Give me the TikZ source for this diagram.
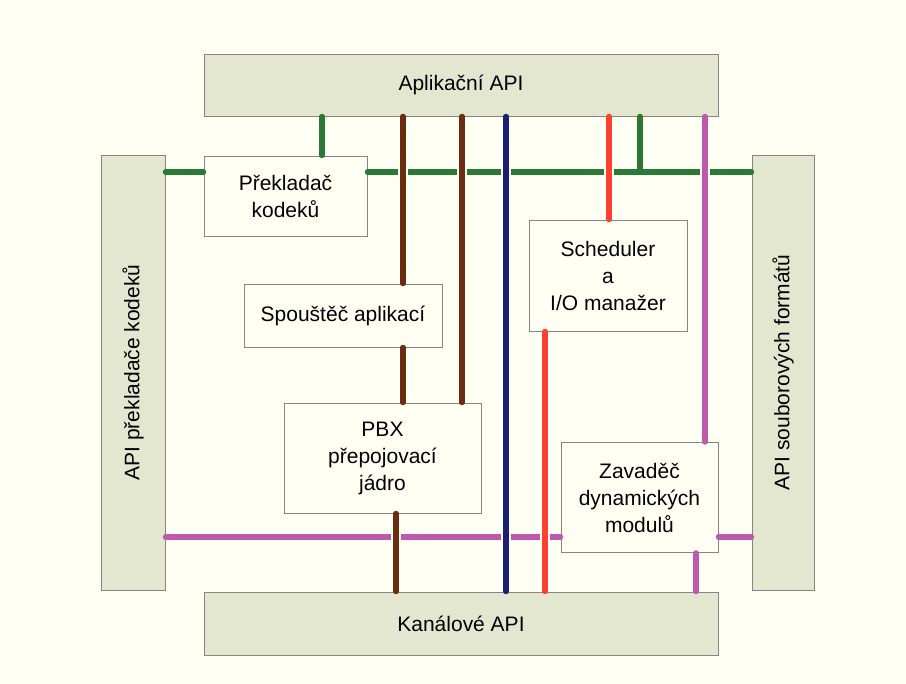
\documentclass[tikz,border=0pt]{standalone}
\usepackage{fontspec}
\setmainfont{Liberation Sans}
\usetikzlibrary{positioning,calc}
\definecolor{paper}{HTML}{FFFFF3}
\definecolor{apifill}{HTML}{E4E7D0}
\definecolor{edgegray}{HTML}{858585}
\definecolor{busgreen}{HTML}{2A7A34}
\definecolor{busbrown}{HTML}{6B2D10}
\definecolor{busblue}{HTML}{1C2075}
\definecolor{busred}{HTML}{FF4030}
\definecolor{buspink}{HTML}{C059AC}
\begin{document}
\begin{tikzpicture}[
  x=1pt, y=-1pt,
  font=\fontsize{21}{27}\selectfont,
  box/.style={draw=edgegray, line width=0.9pt, fill=paper, align=center, inner sep=0pt},
  apibox/.style={box, fill=apifill},
  bus/.style={line width=5.3pt, line cap=round},
  crossbus/.style={bus, preaction={draw=paper, line width=10.5pt, line cap=butt,
                   shorten <=5pt, shorten >=5pt}}
]
\fill[paper] (0,0) rectangle (906,684);
\useasboundingbox (0,0) rectangle (906,684);
% --- API frame ----------------------------------------------------------
\node[apibox, minimum width=514, minimum height=62]  (app)    at (461,85)    {Aplikační API};
\node[apibox, minimum width=514, minimum height=63]  (chan)   at (461,623.5) {Kanálové API};
\node[apibox, minimum width=64,  minimum height=435] (codapi) at (133,372.5) {\rotatebox{90}{API překladače kodeků}};
\node[apibox, minimum width=62,  minimum height=435] (fmtapi) at (783,372.5) {\rotatebox{90}{API souborových formátů}};
% --- inner modules -------------------------------------------------------
\node[box, minimum width=163, minimum height=80]  (prekl)  at (285.5,196)   {Překladač\\ kodeků};
\node[box, minimum width=198, minimum height=63]  (spoust) at (343,315.5)   {Spouštěč aplikací};
\node[box, minimum width=197, minimum height=110] (pbx)    at (382.5,458)   {PBX\\ přepojovací\\ jádro};
\node[box, minimum width=158, minimum height=111] (sched)  at (608,275.5)   {Scheduler\\ a\\ I/O manažer};
\node[box, minimum width=157, minimum height=110] (zavad)  at (639.5,497.5) {Zavaděč\\ dynamických\\ modulů};
% --- bus positions -------------------------------------------------------
\coordinate (gy) at (0,172);
\coordinate (py) at (0,537);
\coordinate (xg1) at (322,0);
\coordinate (xg2) at (640,0);
\coordinate (xb1) at (403,0);
\coordinate (xb2) at (462,0);
\coordinate (xb3) at (396,0);
\coordinate (xn)  at (506,0);
\coordinate (xr1) at (609,0);
\coordinate (xr2) at (545,0);
\coordinate (xp1) at (705,0);
\coordinate (xp2) at (696,0);
% --- horizontal buses ----------------------------------------------------
\draw[bus, busgreen] (codapi.east |- gy) -- (prekl.west |- gy);
\draw[bus, busgreen] (prekl.east |- gy) -- (fmtapi.west |- gy);
\draw[bus, busgreen] (app.south -| xg1) -- (prekl.north -| xg1);
\draw[bus, busgreen] (app.south -| xg2) -- (xg2 |- gy);
\draw[bus, buspink] (codapi.east |- py) -- (zavad.west |- py);
\draw[bus, buspink] (zavad.east |- py) -- (fmtapi.west |- py);
% --- vertical buses ------------------------------------------------------
\draw[crossbus, busbrown] (app.south -| xb1) -- (spoust.north -| xb1);
\draw[crossbus, busbrown] (spoust.south -| xb1) -- (pbx.north -| xb1);
\draw[crossbus, busbrown] (app.south -| xb2) -- (pbx.north -| xb2);
\draw[crossbus, busbrown] (pbx.south -| xb3) -- (chan.north -| xb3);
\draw[crossbus, busblue] (app.south -| xn) -- (chan.north -| xn);
\draw[crossbus, busred] (app.south -| xr1) -- (sched.north -| xr1);
\draw[crossbus, busred] (sched.south -| xr2) -- (chan.north -| xr2);
\draw[crossbus, buspink] (app.south -| xp1) -- (zavad.north -| xp1);
\draw[bus, buspink] (zavad.south -| xp2) -- (chan.north -| xp2);
\end{tikzpicture}
\end{document}
